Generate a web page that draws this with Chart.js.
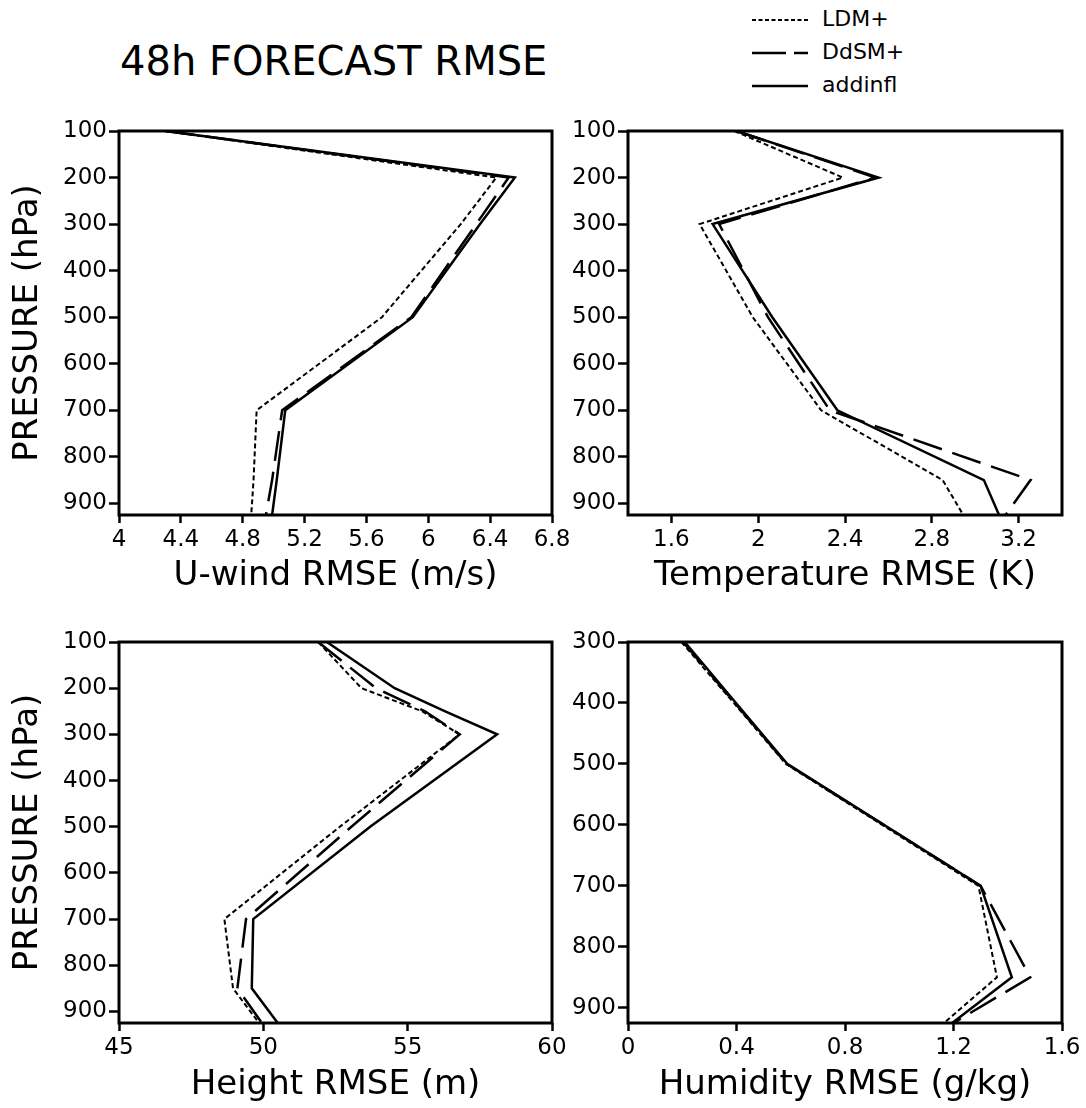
<!DOCTYPE html>
<html>
<head>
<meta charset="utf-8">
<script src="https://cdn.jsdelivr.net/npm/chart.js@4.4.1/dist/chart.umd.min.js"></script>
<style>
  body { margin: 0; width: 1086px; height: 1108px; background: #fff; overflow: hidden; position: relative; font-family: "DejaVu Sans", sans-serif; }
  canvas { position: absolute; }
  .title { position: absolute; left: 120px; top: 38px; font-size: 40px; color: #000; white-space: nowrap; }
  .legend { position: absolute; left: 752px; top: 2px; }
  .legend div { height: 33px; font-size: 22px; line-height: 33px; white-space: nowrap; }
  .legend svg { vertical-align: middle; margin-right: 14px; }
</style>
</head>
<body>
<div class="title">48h FORECAST RMSE</div>
<div class="legend">
  <div><svg width="56" height="6"><line x1="0" y1="3" x2="56" y2="3" stroke="#000" stroke-width="2" stroke-dasharray="4 2.5"/></svg>LDM+</div>
  <div><svg width="56" height="6"><line x1="0" y1="3" x2="56" y2="3" stroke="#000" stroke-width="2.5" stroke-dasharray="34 8"/></svg>DdSM+</div>
  <div><svg width="56" height="6"><line x1="0" y1="3" x2="56" y2="3" stroke="#000" stroke-width="2.5"/></svg>addinfl</div>
</div>
<canvas id="uwind" width="575" height="505" style="left:0;top:100px"></canvas>
<canvas id="temp" width="576" height="505" style="left:510px;top:100px"></canvas>
<canvas id="height" width="575" height="497" style="left:0;top:611px"></canvas>
<canvas id="humid" width="576" height="497" style="left:510px;top:611px"></canvas>
<script>
// pressure levels and RMSE values
const seriesNames = ['LDM+', 'DdSM+', 'addinfl'];

const uLevels = [100, 200, 300, 500, 700, 850, 925];
const uLDM  = [4.30, 6.44, 6.21, 5.70, 4.89, 4.87, 4.855];
const uDdSM = [4.30, 6.52, 6.31, 5.89, 5.055, 4.99, 4.95];
const uAdd  = [4.30, 6.56, 6.335, 5.90, 5.075, 5.02, 4.99];
const uTicks = [4, 4.4, 4.8, 5.2, 5.6, 6, 6.4, 6.8];

const tLevels = [100, 200, 300, 500, 700, 850, 925];
const tLDM  = [1.89, 2.39, 1.73, 1.975, 2.29, 2.85, 2.945];
const tDdSM = [1.90, 2.54, 1.82, 2.045, 2.33, 3.255, 3.14];
const tAdd  = [1.90, 2.555, 1.79, 2.065, 2.365, 3.04, 3.11];
const tTicks = [1.6, 2, 2.4, 2.8, 3.2];

const zLevels = [100, 200, 250, 300, 500, 700, 850, 925];
const zLDM  = [51.9, 53.4, 55.5, 56.8, 52.65, 48.65, 48.95, 49.85];
const zDdSM = [51.9, 53.9, 55.6, 56.8, 53.05, 49.4, 49.1, 49.95];
const zAdd  = [52.2, 54.55, 56.3, 58.1, 53.7, 49.65, 49.6, 50.5];
const zTicks = [45, 50, 55, 60];

const qLevels = [300, 400, 500, 700, 850, 925];
const qLDM  = [0.197, 0.39, 0.582, 1.292, 1.36, 1.165];
const qDdSM = [0.203, 0.394, 0.585, 1.30, 1.483, 1.20];
const qAdd  = [0.209, 0.398, 0.587, 1.30, 1.415, 1.195];
const qTicks = [0, 0.4, 0.8, 1.2, 1.6];

const pTicks = [100, 200, 300, 400, 500, 600, 700, 800, 900];
const pTicksQ = [300, 400, 500, 600, 700, 800, 900];

const lineStyles = [
  { borderWidth: 2, borderDash: [5, 3] },
  { borderWidth: 2.5, borderDash: [30, 11] },
  { borderWidth: 2.5, borderDash: [] }
];

const boxPlugin = {
  id: 'box',
  afterDatasetsDraw(chart) {
    const a = chart.chartArea;
    const ctx = chart.ctx;
    ctx.save();
    ctx.strokeStyle = '#000';
    ctx.lineWidth = 3;
    ctx.strokeRect(a.left, a.top, a.right - a.left, a.bottom - a.top);
    ctx.restore();
  }
};

function fmt(v) {
  return String(+Number(v).toFixed(2));
}

function makePanel(id, levels, series, xMin, xMax, xTicks, yMin, yTicks, xTitle, showYTitle, yWidth, xHeight, padRight, xTitlePad) {
  const datasets = series.map((vals, i) => Object.assign({
    label: seriesNames[i],
    data: levels.map((p, j) => ({ x: vals[j], y: p })),
    showLine: true,
    pointRadius: 0,
    borderColor: '#000',
    fill: false,
    tension: 0
  }, lineStyles[i]));

  new Chart(document.getElementById(id), {
    type: 'scatter',
    data: { datasets: datasets },
    options: {
      responsive: false,
      animation: false,
      layout: { padding: { top: 31, right: padRight, bottom: 0, left: 0 } },
      plugins: { legend: { display: false }, tooltip: { enabled: false } },
      scales: {
        x: {
          type: 'linear',
          min: xMin,
          max: xMax,
          afterBuildTicks(scale) { scale.ticks = xTicks.map(v => ({ value: v })); },
          afterFit(scale) { scale.height = xHeight; },
          border: { display: false },
          grid: { drawOnChartArea: false, drawTicks: true, tickLength: 8, tickWidth: 2.5, tickColor: '#000' },
          ticks: { color: '#000', font: { family: 'DejaVu Sans', size: 23 }, padding: 3, maxRotation: 0, autoSkip: false, callback: fmt },
          title: { display: true, text: xTitle, color: '#000', font: { family: 'DejaVu Sans', size: 34 }, padding: { top: 0, bottom: xTitlePad } }
        },
        y: {
          type: 'linear',
          reverse: true,
          min: yMin,
          max: 925,
          afterBuildTicks(scale) { scale.ticks = yTicks.map(v => ({ value: v })); },
          afterFit(scale) { scale.width = yWidth; },
          border: { display: false },
          grid: { drawOnChartArea: false, drawTicks: true, tickLength: 10, tickWidth: 2.5, tickColor: '#000' },
          ticks: { color: '#000', font: { family: 'DejaVu Sans', size: 23 }, padding: 2, autoSkip: false },
          title: { display: showYTitle, text: 'PRESSURE (hPa)', color: '#000', font: { family: 'DejaVu Sans', size: 34 }, padding: { top: 8, bottom: 0 } }
        }
      }
    },
    plugins: [boxPlugin]
  });
}

makePanel('uwind', uLevels, [uLDM, uDdSM, uAdd], 4, 6.8, uTicks, 100, pTicks, 'U-wind RMSE (m/s)', true, 119, 90, 23, 8);
makePanel('temp', tLevels, [tLDM, tDdSM, tAdd], 1.4, 3.4, tTicks, 100, pTicks, 'Temperature RMSE (K)', false, 118, 90, 24, 8);
makePanel('height', zLevels, [zLDM, zDdSM, zAdd], 45, 60, zTicks, 100, pTicks, 'Height RMSE (m)', true, 119, 85, 23, 2);
makePanel('humid', qLevels, [qLDM, qDdSM, qAdd], 0, 1.6, qTicks, 300, pTicksQ, 'Humidity RMSE (g/kg)', false, 118, 85, 24, 2);
</script>
</body>
</html>
